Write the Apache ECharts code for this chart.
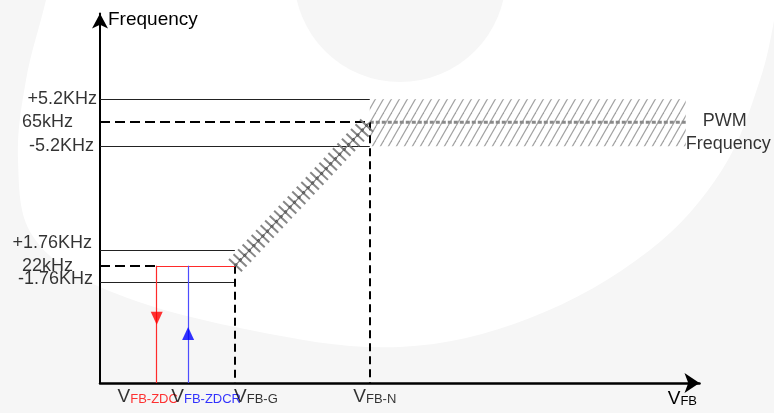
<!DOCTYPE html>
<html>
<head>
<meta charset="utf-8">
<script src="https://cdn.jsdelivr.net/npm/echarts@6/dist/echarts.min.js"></script>
<style>
  html, body { margin: 0; padding: 0; background: #fff; }
  #chart { width: 774px; height: 413px; }
</style>
</head>
<body>
<div id="chart"></div>
<script>
// schematic units: x (VFB) and y (frequency) both run 0..100
var freqLabels = ['+5.2KHz', '65kHz', '-5.2KHz', '+1.76KHz', '22kHz', '-1.76KHz']
var freqLevels = [76.8, 70.6, 64.1, 35.8, 31.7, 27.3]
var vfbNames = ['FB-ZDC', 'FB-ZDCR', 'FB-G', 'FB-N']
var vfbLevels = [9.46, 14.7, 22.5, 45]
var bandEnd = 97.7
var arrowLevels = [17.5, 13.4] // red (down), blue (up)

// label nudges (px) and subscript colours
var freqLabelShift = [[0, 0], [-24, 0], [-3, 0], [-5, -8], [-24, 0], [-4, -3]]
var vfbLabelShift = [-9, 18, 21, 5]
var vfbColors = ['#ff0000', '#0000ff', '#000', '#000']

var FONT = 'Liberation Sans, Arial, sans-serif'
var BG = '#f6f6f6'

function hatch() {
  var c = document.createElement('canvas')
  c.width = 8
  c.height = 14
  var g = c.getContext('2d')
  g.strokeStyle = '#a2a2a2'
  g.lineWidth = 1.2
  for (var k = -1; k <= 1; k++) {
    g.beginPath()
    g.moveTo(8 * k, 14)
    g.lineTo(8 * k + 8, 0)
    g.stroke()
  }
  return c
}

var xZdc = vfbLevels[0], xZdcr = vfbLevels[1], xG = vfbLevels[2], xN = vfbLevels[3]
var fHi = freqLevels[0], f65 = freqLevels[1], fLo = freqLevels[2]
var gHi = freqLevels[3], f22 = freqLevels[4], gLo = freqLevels[5]

var freqLabelData = freqLevels.map(function (v, i) {
  return { value: [0, v], name: freqLabels[i] }
})
var vfbLabelData = vfbLevels.map(function (v, i) {
  return {
    value: [v, 0],
    name: vfbNames[i],
    label: {
      rich: { s: { fontSize: 13, color: vfbColors[i], verticalAlign: 'bottom' } }
    }
  }
})

var chart = echarts.init(document.getElementById('chart'))
var option = {
  animation: false,
  backgroundColor: BG,
  textStyle: { fontFamily: FONT },
  graphic: [
    {
      type: 'polygon', z: -10, silent: true,
      shape: {
        smooth: 0.35,
        points: [[46, 0], [26, 80], [18, 160], [32, 235], [100, 287], [250, 330], [400, 347],
          [530, 318], [650, 250], [722, 170], [760, 80], [776, 10], [776, -5], [46, -5]]
      },
      style: { fill: '#ffffff' }
    },
    {
      type: 'circle', z: -9, silent: true,
      shape: { cx: 400, cy: -24, r: 106 },
      style: { fill: BG }
    }
  ],
  grid: { left: 100, right: 74.5, top: 13.5, bottom: 30 },
  xAxis: {
    type: 'value', min: 0, max: 100,
    splitLine: { show: false },
    axisTick: { show: false },
    axisLabel: { show: false },
    axisLine: {
      lineStyle: { color: '#000', width: 2.5 },
      symbol: ['none', 'arrow'], symbolSize: [15, 15]
    },
    name: '{v|V}{s|FB}',
    nameLocation: 'end',
    nameGap: -2.5,
    nameTextStyle: {
      align: 'right', verticalAlign: 'top', padding: [6, 0, 0, 0],
      rich: {
        v: { fontSize: 19, color: '#000', verticalAlign: 'bottom' },
        s: { fontSize: 13, color: '#000', verticalAlign: 'bottom' }
      }
    }
  },
  yAxis: {
    type: 'value', min: 0, max: 100,
    splitLine: { show: false },
    axisTick: { show: false },
    axisLabel: { show: false },
    axisLine: {
      lineStyle: { color: '#000', width: 2 },
      symbol: ['none', 'arrow'], symbolSize: [12, 15]
    },
    name: 'Frequency',
    nameLocation: 'end',
    nameGap: -6.5,
    nameTextStyle: { fontSize: 19, color: '#000', align: 'left', verticalAlign: 'middle', padding: [0, 0, 0, 8] }
  },
  series: [
    {
      // hatched PWM band with its centre line
      type: 'line',
      data: [[xN, f65], [bandEnd, f65]],
      showSymbol: false,
      silent: true,
      lineStyle: { color: '#8a8a8a', width: 3, type: [4, 2] },
      markArea: {
        silent: true,
        itemStyle: { color: { image: hatch(), repeat: 'repeat' } },
        data: [[{ coord: [xN, fHi] }, { coord: [bandEnd, fLo] }]]
      },
      z: 1
    },
    {
      // thin tolerance lines
      type: 'lines', coordinateSystem: 'cartesian2d', silent: true,
      lineStyle: { color: '#222', width: 1, opacity: 1 },
      data: [
        { coords: [[0, fHi], [xN, fHi]] },
        { coords: [[0, fLo], [xN, fLo]] },
        { coords: [[0, gHi], [xG, gHi]] },
        { coords: [[0, gLo], [xG, gLo]] }
      ]
    },
    {
      // dashed guide lines
      type: 'lines', coordinateSystem: 'cartesian2d', silent: true,
      lineStyle: { color: '#000', width: 2, type: [10, 5], opacity: 1 },
      data: [
        { coords: [[0, f65], [xN, f65]] },
        { coords: [[0, f22], [xZdc, f22]] }
      ]
    },
    {
      type: 'lines', coordinateSystem: 'cartesian2d', silent: true,
      lineStyle: { color: '#000', width: 2, type: [8, 5], opacity: 1 },
      data: [
        { coords: [[xN, f65], [xN, 0]] },
        { coords: [[xG, f22], [xG, 0]] }
      ]
    },
    {
      // ramp: ticks across the line
      type: 'lines', coordinateSystem: 'cartesian2d', silent: true,
      lineStyle: { color: '#7a7a7a', width: 18, type: [2, 4.6], cap: 'butt', opacity: 0.9 },
      data: [{ coords: [[xG, f22], [xN, f65]] }]
    },
    {
      type: 'lines', coordinateSystem: 'cartesian2d', silent: true,
      lineStyle: { color: '#333', width: 2.2, type: [3, 3.6], opacity: 1 },
      data: [{ coords: [[xG, f22], [xN, f65]] }]
    },
    {
      type: 'lines', coordinateSystem: 'cartesian2d', silent: true,
      lineStyle: { color: '#777', width: 1.2, opacity: 1 },
      data: [{ coords: [[xG, f22], [xN, f65]] }]
    },
    {
      // red path
      type: 'lines', coordinateSystem: 'cartesian2d', silent: true,
      lineStyle: { color: '#ff2a2a', width: 1.2, opacity: 1 },
      data: [
        { coords: [[xZdc, f22], [xG, f22]] },
        { coords: [[xZdc, f22], [xZdc, 0]] }
      ]
    },
    {
      // blue path
      type: 'lines', coordinateSystem: 'cartesian2d', silent: true,
      lineStyle: { color: '#4d4dff', width: 1.2, opacity: 1 },
      data: [{ coords: [[xZdcr, f22], [xZdcr, 0]] }]
    },
    {
      type: 'scatter', silent: true,
      symbol: 'triangle', symbolSize: [12, 13], symbolRotate: 180,
      itemStyle: { color: '#ff0000' },
      data: [[xZdc, arrowLevels[0]]],
      z: 5
    },
    {
      type: 'scatter', silent: true,
      symbol: 'triangle', symbolSize: [12, 13],
      itemStyle: { color: '#0000ff' },
      data: [[xZdcr, arrowLevels[1]]],
      z: 5
    },
    {
      // frequency level labels
      type: 'scatter', silent: true, clip: false,
      symbolSize: 0,
      data: freqLabelData,
      label: {
        show: true, position: 'left', distance: 3,
        fontSize: 18, color: '#000',
        formatter: '{b}'
      },
      labelLayout: function (p) {
        var s = freqLabelShift[p.dataIndex]
        return { dx: s[0], dy: s[1], hideOverlap: false }
      },
      z: 6
    },
    {
      // VFB threshold labels
      type: 'scatter', silent: true, clip: false,
      symbolSize: 0,
      data: vfbLabelData,
      label: {
        show: true, position: 'bottom', distance: 4,
        formatter: '{v|V}{s|{b}}',
        rich: {
          v: { fontSize: 19, color: '#000', verticalAlign: 'bottom' },
          s: { fontSize: 13, color: '#000', verticalAlign: 'bottom' }
        }
      },
      labelLayout: function (p) {
        return { dx: vfbLabelShift[p.dataIndex], dy: 0, hideOverlap: false }
      },
      z: 6
    },
    {
      // band caption
      type: 'scatter', silent: true, clip: false,
      symbolSize: 0,
      data: [[bandEnd, f65]],
      label: {
        show: true, position: 'right', distance: 0, offset: [0, 10],
        formatter: '{a|PWM}\n{b|Frequency}',
        rich: {
          a: { fontSize: 18, color: '#000', lineHeight: 23, padding: [0, 0, 0, 17] },
          b: { fontSize: 18, color: '#000', lineHeight: 23 }
        }
      }
    }
  ]
}
chart.setOption(option)
</script>
</body>
</html>
